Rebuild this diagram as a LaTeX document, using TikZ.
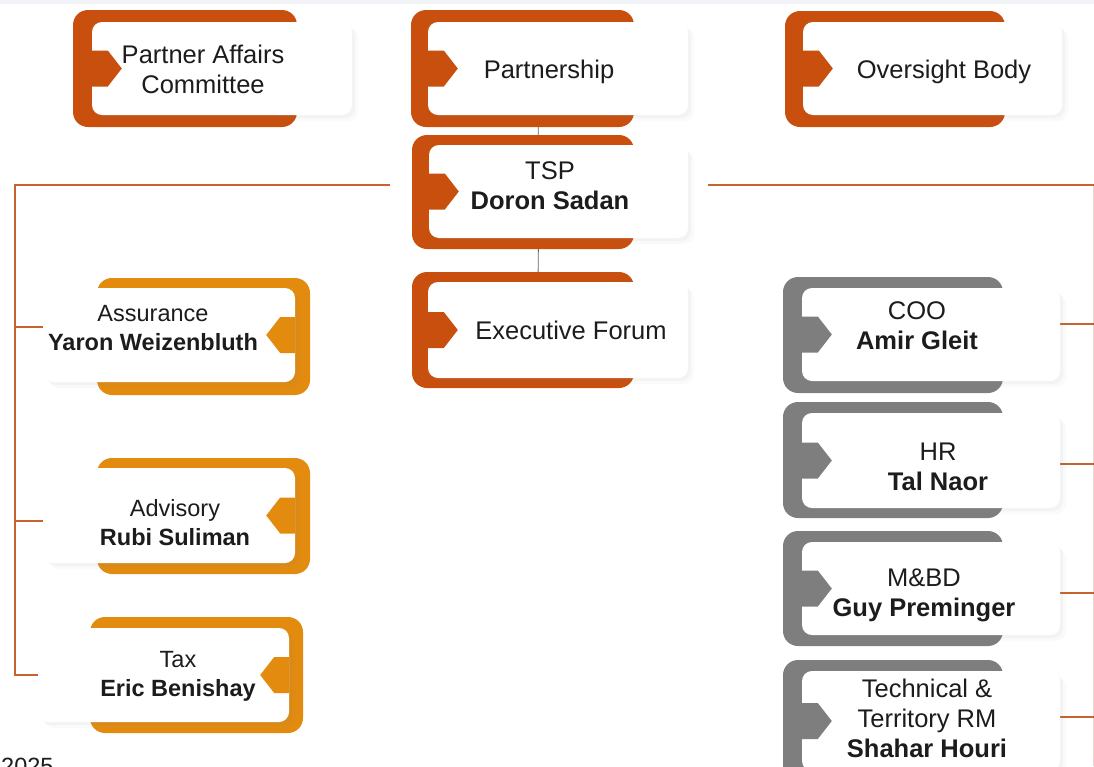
\documentclass[tikz,border=0pt]{standalone}
\usepackage{fontspec}
\setmainfont{Liberation Sans}
\usetikzlibrary{shadows}
\definecolor{corange}{HTML}{C94F0E}
\definecolor{camber}{HTML}{E38B0E}
\definecolor{cgray}{HTML}{7E7E7E}
\definecolor{cline}{HTML}{C8622E}
\definecolor{ctop}{HTML}{F1F3F6}
\definecolor{ctext}{HTML}{1C1C1C}
\pgfdeclarelayer{bg}
\pgfsetlayers{bg,main}
\begin{document}
\begin{tikzpicture}[x=1pt,y=-1pt,
  back/.style={rounded corners=15pt},
  card/.style={fill=white, rounded corners=10pt, inner sep=0pt, draw=none,
    drop shadow={opacity=0.06, shadow xshift=3pt, shadow yshift=-3pt},
    drop shadow={opacity=0.04, shadow xshift=6pt, shadow yshift=-6pt}},
  txt/.style={align=center, font=\fontsize{25.5}{30}\selectfont, text=ctext, inner sep=0pt},
  atxt/.style={txt, font=\fontsize{23.5}{29}\selectfont},
  conn/.style={draw=cline, line width=2pt},
  link/.style={draw=black!60, line width=0.8pt}]
\useasboundingbox (0,0) rectangle (1094,766);
\fill[ctop] (0,0) rectangle (1094,4);
\coordinate (lcorner) at (15,185);
\coordinate (rcorner) at (1094,185);

% backs
\fill[corange, back] (73,10) rectangle (297,127);
\fill[corange, back] (411,10) rectangle (634,127);
\fill[corange, back] (785,11) rectangle (1005,127);
\fill[corange, back] (412,135) rectangle (634,249);
\fill[corange, back] (412,272) rectangle (634,388);
\fill[camber, back] (97,278) rectangle (310,395);
\fill[camber, back] (97,458) rectangle (310,574);
\fill[camber, back] (90,617) rectangle (303,733);
\fill[cgray, back] (783,277) rectangle (1003,393);
\fill[cgray, back] (783,402) rectangle (1003,518);
\fill[cgray, back] (783,531) rectangle (1003,646);
\fill[cgray, back] (783,660) rectangle (1003,790);

% cards
\node[card, minimum width=260pt, minimum height=93pt] (pac) at (222,68.5) {};
\node[card, minimum width=260pt, minimum height=93pt] (pship) at (558,68.5) {};
\node[card, minimum width=259pt, minimum height=93pt] (over) at (932.5,68.5) {};
\node[card, minimum width=259pt, minimum height=93pt] (tsp) at (558.5,191.5) {};
\node[card, minimum width=260pt, minimum height=96pt] (exec) at (558,330) {};
\node[card, minimum width=252pt, minimum height=94pt] (assu) at (169,335) {};
\node[card, minimum width=252pt, minimum height=95pt] (advi) at (169,515.5) {};
\node[card, minimum width=251pt, minimum height=94pt] (tax) at (163.5,675) {};
\node[card, minimum width=258pt, minimum height=93pt] (coo) at (931,334.5) {};
\node[card, minimum width=258pt, minimum height=95pt] (hr) at (931,460.5) {};
\node[card, minimum width=258pt, minimum height=93pt] (mbd) at (931,588.5) {};
\node[card, minimum width=258pt, minimum height=100pt] (tech) at (931,721) {};

% tabs pointing right (left edge)
\foreach \n/\c in {pac/corange, pship/corange, over/corange, tsp/corange, exec/corange, coo/cgray, hr/cgray, mbd/cgray, tech/cgray}{
  \fill[\c] (\n.west) ++(0,-18) -- ++(16,0) -- ++(14,18) -- ++(-14,18) -- ++(-16,0) -- cycle;
}
% tabs pointing left (right edge)
\foreach \n in {assu, advi, tax}{
  \fill[camber] (\n.east) ++(0,-18) -- ++(-15,0) -- ++(-14,18) -- ++(14,18) -- ++(15,0) -- cycle;
}

% connectors (behind)
\begin{pgfonlayer}{bg}
\path[link] ([xshift=-20pt]pship.south) -- ([xshift=-20pt]tsp.north);
\path[link] ([xshift=-20pt]tsp.south) -- ([xshift=-20pt]exec.north);
\path[conn] ([xshift=-39pt]tsp.west |- lcorner) -- (lcorner) |- (tax.west);
\path[conn] (lcorner |- 0,327) -- (assu.west |- 0,327);
\path[conn] (lcorner |- 0,521) -- (advi.west |- 0,521);
\path[conn] ([xshift=20pt]tsp.east |- rcorner) -- (rcorner);
\path[conn, draw opacity=0.25] (rcorner) -- (1094,766);
\path[conn] (coo.east |- 0,324) -- (1094,324);
\path[conn] (hr.east |- 0,464) -- (1094,464);
\path[conn] (mbd.east |- 0,593) -- (1094,593);
\path[conn] (tech.east |- 0,717) -- (1094,717);
\end{pgfonlayer}

% texts
\node[txt] (tpac) at (203,69) {Partner Affairs\\Committee};
\node[txt] (tpship) at (549,72) {Partnership};
\node[txt] (tover) at (944,72) {Oversight Body};
\node[txt] (ttsp) at (550,186) {TSP\\\textbf{Doron Sadan}};
\node[txt] (texec) at (571,330) {Executive Forum};
\node[atxt] (tassu) at (153,328) {Assurance\\\textbf{Yaron Weizenbluth}};
\node[atxt] (tadvi) at (175,523) {Advisory\\\textbf{Rubi Suliman}};
\node[atxt] (ttax) at (178,676) {Tax\\\textbf{Eric Benishay}};
\node[txt] (tcoo) at (917,326) {COO\\\textbf{Amir Gleit}};
\node[txt] (thr) at (938,467) {HR\\\textbf{Tal Naor}};
\node[txt] (tmbd) at (924,595) {M\&BD\\\textbf{Guy Preminger}};
\node[txt] (ttech) at (927,718) {Technical \&\\Territory RM\\\textbf{Shahar Houri}};
\node[atxt, anchor=base west] (year) at (1,774) {2025};
\end{tikzpicture}
\end{document}
